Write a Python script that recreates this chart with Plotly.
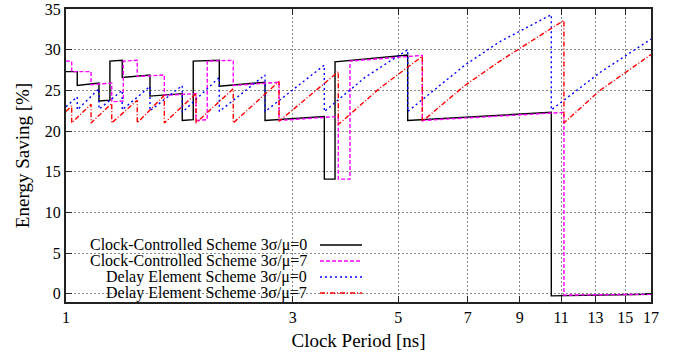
import plotly.graph_objects as go

# ---------------- data ----------------
cc0_x = [1.0, 1.056, 1.056, 1.173, 1.173, 1.237, 1.237, 1.313, 1.313, 1.502, 1.502, 1.756, 1.756, 1.852, 1.852,
         2.101, 2.101, 2.622, 2.622, 3.494, 3.494, 3.680, 3.680, 5.232, 5.232, 10.49, 10.49, 17.0]
cc0_y = [27.3, 27.3, 25.6, 25.9, 23.7, 23.8, 28.6, 28.7, 26.6, 26.9, 24.3, 24.6, 21.3, 21.4, 28.6,
         28.7, 25.5, 26.0, 21.3, 21.8, 14.1, 14.1, 28.5, 29.35, 21.3, 22.3, -0.25, -0.05]

cc7_x = [1.0, 1.028, 1.028, 1.129, 1.129, 1.248, 1.248, 1.320, 1.320, 1.412, 1.412, 1.610, 1.610, 1.877, 1.877,
         1.982, 1.982, 2.248, 2.248, 2.806, 2.806, 3.739, 3.739, 3.956, 3.956, 5.616, 5.616, 11.15, 11.15, 17.0]
cc7_y = [28.6, 28.6, 27.3, 27.3, 25.7, 25.9, 23.6, 23.7, 28.6, 28.7, 26.7, 26.9, 24.4, 24.6, 21.3,
         21.4, 28.6, 28.7, 25.6, 26.0, 21.3, 21.8, 14.1, 14.1, 28.6, 29.3, 21.3, 22.3, -0.15, -0.05]

de0_x = [1.0, 1.056, 1.056, 1.173, 1.173, 1.313, 1.313, 1.502, 1.502, 1.756, 1.756, 2.101, 2.101, 2.622, 2.622,
         3.494, 3.494, 4.255, 5.232, 5.232, 6.90, 8.18, 10.49, 10.49, 13.28, 17.0]
de0_y = [23.0, 24.2, 22.6, 25.2, 22.7, 25.0, 22.6, 25.5, 22.5, 25.6, 22.3, 26.6, 22.4, 26.9, 22.4,
         28.1, 22.4, 26.6, 30.0, 22.4, 28.1, 31.0, 34.3, 22.6, 27.2, 31.3]

de7_x = [1.0, 1.028, 1.028, 1.129, 1.129, 1.248, 1.248, 1.412, 1.412, 1.610, 1.610, 1.877, 1.877, 2.248, 2.248,
         2.806, 2.806, 3.739, 3.739, 4.576, 5.616, 5.616, 6.90, 8.18, 11.15, 11.15, 13.28, 17.0]
de7_y = [22.4, 23.1, 21.0, 23.3, 21.0, 23.4, 21.0, 23.8, 21.0, 24.4, 21.0, 24.6, 21.0, 25.2, 21.0,
         26.1, 21.2, 27.3, 20.8, 25.3, 29.2, 21.2, 25.6, 28.6, 33.6, 21.0, 25.0, 29.4]

x_ticks = [1, 3, 5, 7, 9, 11, 13, 15, 17]
y_ticks = [0, 5, 10, 15, 20, 25, 30, 35]

labels = ["Clock-Controlled Scheme 3σ/μ=0", "Clock-Controlled Scheme 3σ/μ=7",
          "Delay Element Scheme 3σ/μ=0", "Delay Element Scheme 3σ/μ=7"]
colors = ["#000000", "#ff00ff", "#0000ff", "#ff0000"]
dashes = ["solid", "4px,2px", "2px,3px", "5px,2px,1px,2px"]

series = [(cc0_x, cc0_y), (cc7_x, cc7_y), (de0_x, de0_y), (de7_x, de7_y)]

fig = go.Figure()
for (xs, ys), lab, col, dsh in zip(series, labels, colors, dashes):
    fig.add_trace(go.Scatter(x=xs, y=ys, mode="lines", name=lab,
                             line=dict(color=col, width=1.4, dash=dsh), showlegend=False))

FONT = "Liberation Serif"

# legend (gnuplot style: right-aligned text, sample line on the right)
row_y = [0.1945, 0.1399, 0.0853, 0.0307]
shapes = [dict(type="rect", xref="paper", yref="paper", x0=0.0, x1=0.523, y0=0.0, y1=0.2287,
               fillcolor="white", line=dict(width=0), layer="between")]
annotations = []
for lab, col, dsh, yy in zip(labels, colors, dashes, row_y):
    annotations.append(dict(xref="paper", yref="paper", x=0.4154, y=yy, text=lab, showarrow=False,
                            xanchor="right", yanchor="middle", font=dict(family=FONT, size=16, color="black")))
    shapes.append(dict(type="line", xref="paper", yref="paper", x0=0.4342, x1=0.506, y0=yy, y1=yy,
                       line=dict(color=col, width=1.4, dash=dsh)))

fig.update_layout(
    width=678, height=356,
    margin=dict(l=66, r=27, t=9, b=54, autoexpand=False),
    paper_bgcolor="white", plot_bgcolor="white",
    font=dict(family=FONT, size=16, color="black"),
    shapes=shapes, annotations=annotations,
)
fig.update_xaxes(type="log", range=[0, 1.2304489], tickvals=x_ticks, ticktext=[str(v) for v in x_ticks],
                 showgrid=True, gridcolor="#888", griddash="2px,2px", gridwidth=1,
                 showline=True, linecolor="#222", linewidth=2, mirror="ticks",
                 ticks="inside", ticklen=6, tickcolor="#222", ticklabeloverflow="allow",
                 title=dict(text="Clock Period [ns]", standoff=8), zeroline=False)
fig.update_yaxes(range=[-1, 35], tickvals=y_ticks,
                 showgrid=True, gridcolor="#888", griddash="2px,2px", gridwidth=1,
                 showline=True, linecolor="#222", linewidth=2, mirror="ticks",
                 ticks="inside", ticklen=6, tickcolor="#222", ticklabeloverflow="allow",
                 title=dict(text="Energy Saving [%]", standoff=10), zeroline=False)

fig.write_html("out.html", config={"displayModeBar": False},
               post_script="document.body.style.margin='0';")
